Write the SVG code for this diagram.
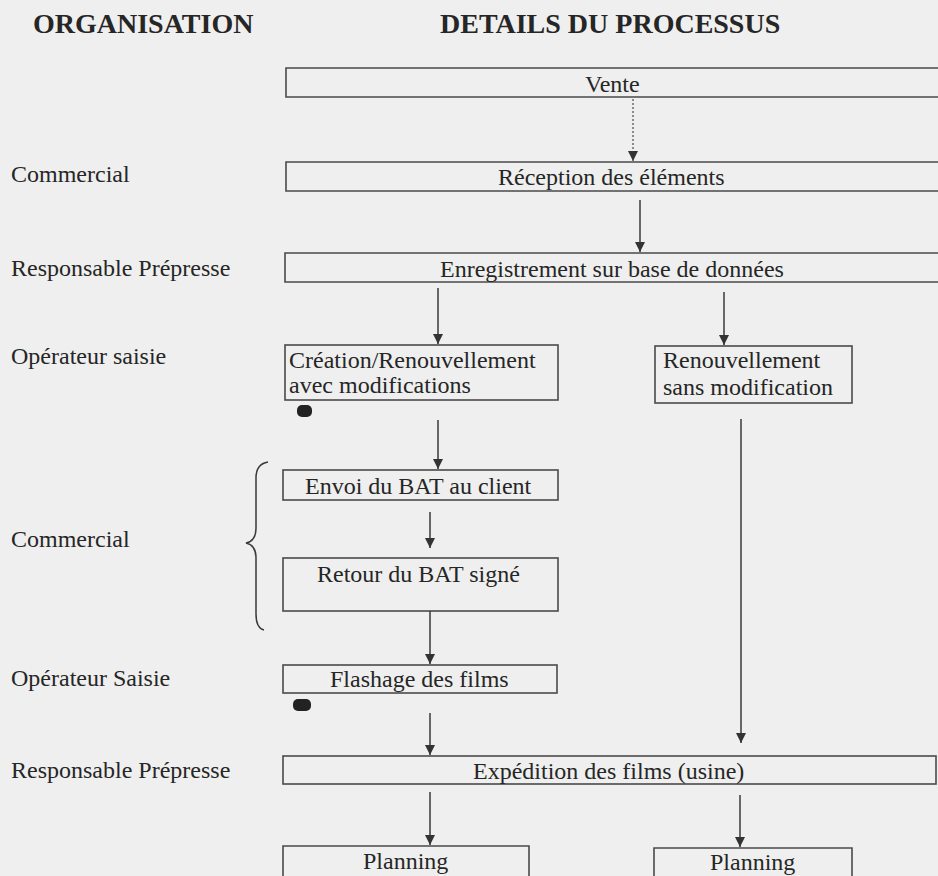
<svg xmlns="http://www.w3.org/2000/svg" width="938" height="876" viewBox="0 0 938 876">
<defs>
<style>
.bg{fill:#efefef}
.box{fill:none;stroke:#4a4a4a;stroke-width:1.6}
.t{font-family:"Liberation Serif","Times New Roman",serif;font-size:24px;fill:#262626}
.h{font-family:"Liberation Serif","Times New Roman",serif;font-size:28px;font-weight:bold;fill:#262626}
.ln{fill:none;stroke:#3a3a3a;stroke-width:1.5}
.dot{fill:none;stroke:#555;stroke-width:1.3;stroke-dasharray:2 2}
.blob{fill:#222}
</style>
<marker id="ahv" markerWidth="10" markerHeight="10" refX="5" refY="10" orient="0" markerUnits="userSpaceOnUse" viewBox="0 0 10 10">
<path d="M0 0 L10 0 L5 10 Z" fill="#333"/>
</marker>
</defs>
<rect class="bg" x="0" y="0" width="938" height="876"/>

<g id="headers">
<text class="h" x="33" y="33">ORGANISATION</text>
<text class="h" x="440" y="33">DETAILS DU PROCESSUS</text>
</g>

<g id="roles">
<text class="t" x="11" y="182">Commercial</text>
<text class="t" x="11" y="276">Responsable Prépresse</text>
<text class="t" x="11" y="364">Opérateur saisie</text>
<text class="t" x="11" y="547">Commercial</text>
<text class="t" x="11" y="686">Opérateur Saisie</text>
<text class="t" x="11" y="778">Responsable Prépresse</text>
</g>

<g id="brace">
<path class="ln" d="M268 462 Q256 464 256 478 L256 528 Q256 541 246 543 Q256 545 256 558 L256 614 Q256 628 264 630"/>
</g>

<g id="vente">
<path class="box" d="M940 68 L286 68 L286 97 L940 97"/>
<text class="t" x="585" y="92">Vente</text>
</g>

<g id="reception">
<path class="box" d="M940 162 L286 162 L286 191 L940 191"/>
<text class="t" x="498" y="185">Réception des éléments</text>
</g>

<g id="enregistrement">
<path class="box" d="M940 253 L285 253 L285 282 L940 282"/>
<text class="t" x="440" y="277">Enregistrement sur base de données</text>
</g>

<g id="creation">
<rect class="box" x="285" y="345" width="273" height="55"/>
<text class="t" x="289" y="368">Création/Renouvellement</text>
<text class="t" x="289" y="393">avec modifications</text>
</g>

<g id="renouvellement">
<rect class="box" x="655" y="346" width="197" height="57"/>
<text class="t" x="663" y="368">Renouvellement</text>
<text class="t" x="663" y="395">sans modification</text>
</g>

<g id="envoi">
<rect class="box" x="283" y="470" width="275" height="30"/>
<text class="t" x="305" y="494">Envoi du BAT au client</text>
</g>

<g id="retour">
<rect class="box" x="283" y="558" width="275" height="53"/>
<text class="t" x="317" y="582">Retour du BAT signé</text>
</g>

<g id="flashage">
<rect class="box" x="283" y="665" width="274" height="28"/>
<text class="t" x="330" y="687">Flashage des films</text>
</g>

<g id="expedition">
<rect class="box" x="283" y="756" width="653" height="28"/>
<text class="t" x="473" y="779">Expédition des films (usine)</text>
</g>

<g id="planning1">
<path class="box" d="M283 880 L283 846 L529 846 L529 880"/>
<text class="t" x="363" y="869">Planning</text>
</g>

<g id="planning2">
<path class="box" d="M654 880 L654 848 L852 848 L852 880"/>
<text class="t" x="710" y="870">Planning</text>
</g>

<g id="marks">
<rect class="blob" x="297" y="405" width="15" height="12" rx="5" ry="5"/>
<rect class="blob" x="293" y="699" width="18" height="12" rx="5" ry="5"/>
</g>

<g id="connectors">
<line class="dot" x1="633" y1="99" x2="633" y2="161" marker-end="url(#ahv)"/>
<line class="ln" x1="640" y1="200" x2="640" y2="252" marker-end="url(#ahv)"/>
<line class="ln" x1="438" y1="288" x2="438" y2="344" marker-end="url(#ahv)"/>
<line class="ln" x1="724" y1="292" x2="724" y2="345" marker-end="url(#ahv)"/>
<line class="ln" x1="438" y1="420" x2="438" y2="469" marker-end="url(#ahv)"/>
<line class="ln" x1="430" y1="512" x2="430" y2="548" marker-end="url(#ahv)"/>
<line class="ln" x1="430" y1="611" x2="430" y2="664" marker-end="url(#ahv)"/>
<line class="ln" x1="430" y1="713" x2="430" y2="755" marker-end="url(#ahv)"/>
<line class="ln" x1="741" y1="419" x2="741" y2="743" marker-end="url(#ahv)"/>
<line class="ln" x1="430" y1="792" x2="430" y2="845" marker-end="url(#ahv)"/>
<line class="ln" x1="740" y1="795" x2="740" y2="847" marker-end="url(#ahv)"/>
</g>
</svg>
